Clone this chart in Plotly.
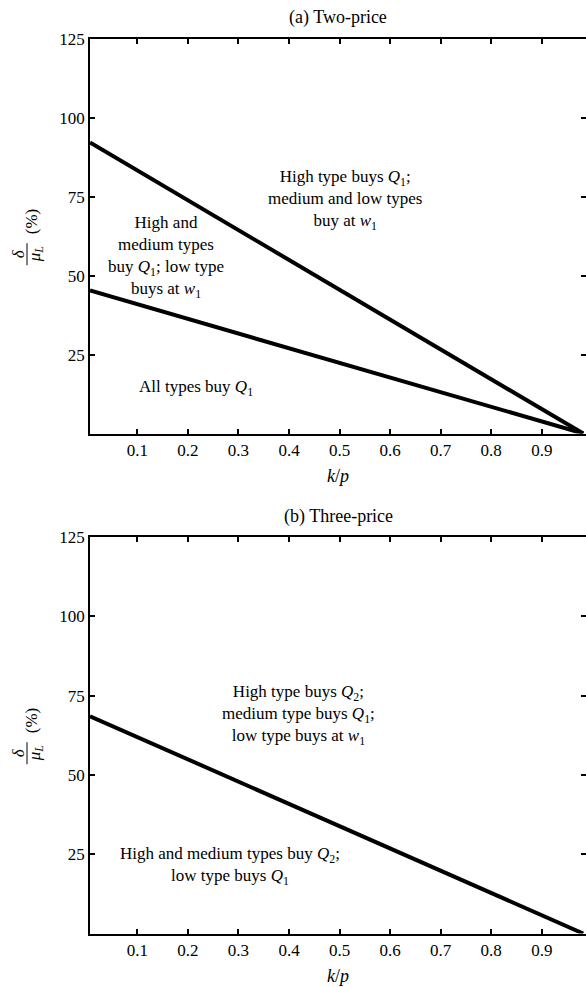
import plotly.graph_objects as go

# ---- data ----
k_over_p = [0.0063, 0.982]
two_price_upper = [92.2, 0.0]
two_price_lower = [45.3, 0.0]
three_price_line = [68.5, 0.0]

x_ticks = [0.1, 0.2, 0.3, 0.4, 0.5, 0.6, 0.7, 0.8, 0.9]
x_tick_text = ["0.1", "0.2", "0.3", "0.4", "0.5", "0.6", "0.7", "0.8", "0.9"]
y_ticks = [25, 50, 75, 100, 125]
y_tick_text = ["25", "50", "75", "100", "125"]

panel_titles = ["(a) Two-price", "(b) Three-price"]

FONT = "Liberation Serif, Times New Roman, serif"

fig = go.Figure()
line_style = dict(color="black", width=4)
fig.add_trace(go.Scatter(x=k_over_p, y=two_price_upper, mode="lines", line=line_style,
                         xaxis="x", yaxis="y", showlegend=False, hoverinfo="skip"))
fig.add_trace(go.Scatter(x=k_over_p, y=two_price_lower, mode="lines", line=line_style,
                         xaxis="x", yaxis="y", showlegend=False, hoverinfo="skip"))
fig.add_trace(go.Scatter(x=k_over_p, y=three_price_line, mode="lines", line=line_style,
                         xaxis="x2", yaxis="y2", showlegend=False, hoverinfo="skip"))

W, H = 586, 987
x_dom = [90 / W, 1.0]
top_px = (39.0, 433.5)      # top, bottom pixel rows of panel (a)
bot_px = (537.0, 933.5)     # top, bottom pixel rows of panel (b)
top_dom = [1 - top_px[1] / H, 1 - top_px[0] / H]
bot_dom = [1 - bot_px[1] / H, 1 - bot_px[0] / H]

axis_common = dict(showline=True, linewidth=1.5, linecolor="black", mirror="ticks",
                   ticks="inside", ticklen=5, tickwidth=1.5, tickcolor="black",
                   showgrid=False, zeroline=False, automargin=False,
                   tickfont=dict(family=FONT, size=17, color="black"))

xcfg = dict(axis_common, range=[0.0063, 0.9875], tickmode="array",
            tickvals=x_ticks, ticktext=x_tick_text, domain=x_dom)
ycfg = dict(axis_common, range=[0, 125], tickmode="array",
            tickvals=y_ticks, ticktext=y_tick_text)

fig.update_layout(
    width=W, height=H,
    margin=dict(l=0, r=0, t=0, b=0),
    paper_bgcolor="white", plot_bgcolor="white",
    font=dict(family=FONT, size=17, color="black"),
    xaxis=dict(xcfg, anchor="y"),
    yaxis=dict(ycfg, domain=top_dom, anchor="x"),
    xaxis2=dict(xcfg, anchor="y2"),
    yaxis2=dict(ycfg, domain=bot_dom, anchor="x2"),
)

ann = []
shapes = []
txt = dict(family=FONT, size=17, color="black")
ttl = dict(family=FONT, size=18, color="black")
for i, (xr, yr, (ptop, pbot)) in enumerate([("x domain", "y domain", top_px),
                                            ("x2 domain", "y2 domain", bot_px)]):
    ann.append(dict(text=panel_titles[i], xref=xr, yref=yr, x=0.5, y=1.0, yshift=21,
                    showarrow=False, font=ttl, xanchor="center", yanchor="middle"))
    ann.append(dict(text="<i>k</i>/<i>p</i>", xref=xr, yref=yr, x=0.5, y=0, yshift=-42,
                    showarrow=False, font=ttl, xanchor="center", yanchor="middle"))
    # y-axis title drawn as a rotated fraction  δ / μ_L  followed by (%)
    mid = (ptop + pbot) / 2
    frac_c = mid + 18
    ann.append(dict(text="<i>δ</i>", xref="paper", yref="paper", x=18 / W, y=1 - frac_c / H,
                    textangle=-90, showarrow=False, font=txt, xanchor="center", yanchor="middle"))
    ann.append(dict(text="<i>μ<sub>L</sub></i>", xref="paper", yref="paper", x=36 / W,
                    y=1 - frac_c / H, textangle=-90, showarrow=False, font=txt,
                    xanchor="center", yanchor="middle"))
    shapes.append(dict(type="line", xref="paper", yref="paper",
                       x0=27 / W, x1=27 / W, y0=1 - (frac_c - 11) / H, y1=1 - (frac_c + 11) / H,
                       line=dict(color="black", width=1)))
    ann.append(dict(text="(%)", xref="paper", yref="paper", x=31 / W, y=1 - (mid - 14) / H,
                    textangle=-90, showarrow=False, font=txt, xanchor="center", yanchor="middle"))

# region labels, panel (a)
ann.append(dict(text="High type buys <i>Q</i><sub>1</sub>;<br>medium and low types<br>buy at <i>w</i><sub>1</sub>",
                xref="x", yref="y", x=0.511, y=74.0, showarrow=False, font=txt, align="center"))
ann.append(dict(text="High and<br>medium types<br>buy <i>Q</i><sub>1</sub>; low type<br>buys at <i>w</i><sub>1</sub>",
                xref="x", yref="y", x=0.157, y=55.9, showarrow=False, font=txt, align="center"))
ann.append(dict(text="All types buy <i>Q</i><sub>1</sub>",
                xref="x", yref="y", x=0.216, y=14.4, showarrow=False, font=txt, align="center"))
# region labels, panel (b)
ann.append(dict(text="High type buys <i>Q</i><sub>2</sub>;<br>medium type buys <i>Q</i><sub>1</sub>;<br>low type buys at <i>w</i><sub>1</sub>",
                xref="x2", yref="y2", x=0.418, y=69.0, showarrow=False, font=txt, align="center"))
ann.append(dict(text="High and medium types buy <i>Q</i><sub>2</sub>;<br>low type buys <i>Q</i><sub>1</sub>",
                xref="x2", yref="y2", x=0.283, y=21.2, showarrow=False, font=txt, align="center"))

fig.update_layout(annotations=ann, shapes=shapes)
fig.write_html(
    "out.html",
    config={"displayModeBar": False},
    post_script="document.body.style.margin='0';document.body.style.overflow='hidden';",
)
